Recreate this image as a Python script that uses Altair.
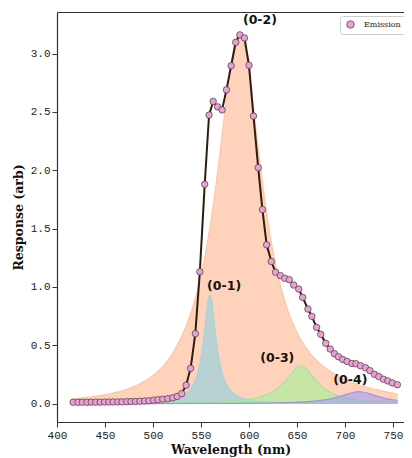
import altair as alt
import pandas as pd

# ---- data ----
emission_nm = [416.8, 421.9, 426.4, 431.3, 435.7, 440.3, 445.0, 449.6, 454.0, 458.5,
               463.4, 467.8, 472.7, 477.1, 481.7, 486.4, 491.3, 495.8, 500.6, 505.1,
               510.2, 515.4, 520.6, 525.2, 529.9, 534.5, 539.2, 544.1, 548.8, 553.9,
               558.4, 562.7, 567.4, 572.0, 576.5, 581.4, 586.2, 590.5, 595.3, 600.0,
               604.7, 609.6, 614.0, 618.4, 623.3, 627.7, 632.8, 637.3, 642.1, 646.6,
               651.8, 655.9, 661.4, 665.5, 670.4, 674.8, 680.0, 684.6, 689.0, 693.2,
               697.6, 702.2, 707.3, 711.5, 716.2, 721.4, 726.0, 730.7, 735.3, 740.1,
               744.6, 749.4, 754.6]
emission_resp = [0.012, 0.012, 0.012, 0.012, 0.013, 0.013, 0.013, 0.014, 0.014, 0.015,
                 0.015, 0.016, 0.017, 0.018, 0.019, 0.021, 0.023, 0.025, 0.030, 0.034,
                 0.038, 0.043, 0.050, 0.062, 0.086, 0.158, 0.303, 0.600, 1.130, 1.880,
                 2.473, 2.590, 2.543, 2.517, 2.689, 2.896, 3.096, 3.160, 3.134, 2.900,
                 2.464, 2.022, 1.663, 1.361, 1.218, 1.126, 1.097, 1.074, 1.062, 1.016,
                 0.982, 0.911, 0.811, 0.748, 0.654, 0.594, 0.517, 0.468, 0.428, 0.402,
                 0.379, 0.362, 0.345, 0.342, 0.325, 0.308, 0.283, 0.252, 0.232, 0.210,
                 0.195, 0.178, 0.163]

band02_nm = [415, 420, 425, 430, 435, 440, 445, 450, 455, 460, 465, 470, 475, 480, 485,
             490, 495, 500, 505, 510, 515, 520, 525, 530, 535, 540, 545, 550, 555, 560,
             565, 570, 575, 580, 585, 590, 595, 600, 605, 610, 615, 620, 625, 630, 635,
             640, 645, 650, 655, 660, 665, 670, 675, 680, 685, 690, 695, 700, 705, 710,
             715, 720, 725, 730, 735, 740, 745, 750, 755]
band02_resp = [0.040, 0.044, 0.048, 0.053, 0.058, 0.064, 0.070, 0.077, 0.085, 0.094,
               0.104, 0.116, 0.130, 0.146, 0.165, 0.187, 0.212, 0.242, 0.277, 0.318,
               0.367, 0.425, 0.495, 0.578, 0.676, 0.790, 0.930, 1.100, 1.300, 1.548,
               1.834, 2.162, 2.512, 2.839, 3.080, 3.170, 3.080, 2.839, 2.512, 2.162,
               1.834, 1.548, 1.306, 1.107, 0.944, 0.810, 0.701, 0.610, 0.535, 0.473,
               0.420, 0.375, 0.337, 0.304, 0.275, 0.251, 0.229, 0.208, 0.190, 0.174,
               0.160, 0.147, 0.136, 0.126, 0.117, 0.105, 0.098, 0.090, 0.083]

band01_nm = [415, 440, 470, 490, 505, 515, 525, 530, 535, 540, 545, 548, 551, 554, 556,
             558, 559.3, 561, 563, 565, 568, 571, 575, 580, 585, 590, 600, 615, 635, 660,
             700, 755]
band01_resp = [0.003, 0.004, 0.007, 0.012, 0.020, 0.029, 0.048, 0.065, 0.091, 0.136,
               0.222, 0.311, 0.448, 0.646, 0.795, 0.906, 0.930, 0.890, 0.766, 0.617,
               0.426, 0.296, 0.192, 0.121, 0.082, 0.059, 0.035, 0.019, 0.010, 0.006,
               0.003, 0.002]

band03_nm = [415, 450, 490, 520, 550, 570, 590, 600, 610, 620, 628, 635, 640, 645, 650,
             654, 658, 663, 668, 673, 680, 688, 698, 708, 718, 738, 755]
band03_resp = [0.002, 0.003, 0.005, 0.007, 0.012, 0.017, 0.029, 0.039, 0.055, 0.083,
               0.120, 0.170, 0.217, 0.269, 0.311, 0.323, 0.311, 0.269, 0.217, 0.170,
               0.120, 0.083, 0.055, 0.039, 0.029, 0.017, 0.012]

band04_nm = [415, 500, 560, 600, 630, 650, 665, 675, 685, 695, 703, 709, 714.6, 720, 726,
             734, 744, 755]
band04_resp = [0.001, 0.001, 0.002, 0.004, 0.008, 0.013, 0.020, 0.028, 0.041, 0.062,
               0.084, 0.098, 0.103, 0.098, 0.084, 0.062, 0.041, 0.027]

label_text = ["(0-2)", "(0-1)", "(0-3)", "(0-4)"]
label_nm = [611.4, 574.1, 629.5, 705.6]
label_resp = [3.290, 1.009, 0.393, 0.199]

# ---- tables ----
emis = pd.DataFrame({"nm": emission_nm, "resp": emission_resp, "series": "Emission"})
b02 = pd.DataFrame({"nm": band02_nm, "resp": band02_resp})
b01 = pd.DataFrame({"nm": band01_nm, "resp": band01_resp})
b03 = pd.DataFrame({"nm": band03_nm, "resp": band03_resp})
b04 = pd.DataFrame({"nm": band04_nm, "resp": band04_resp})
labels = pd.DataFrame({"nm": label_nm, "resp": label_resp, "text": label_text})

xscale = alt.Scale(domain=[400, 761.5], nice=False, zero=False)
yscale = alt.Scale(domain=[-0.157, 3.356], nice=False, zero=False)

yaxis = alt.Axis(values=[0, 0.5, 1.0, 1.5, 2.0, 2.5, 3.0], format=".1f",
                 title="Response (arb)", titlePadding=5, labelFlush=False)
xaxis_bottom = alt.Axis(values=[400, 450, 500, 550, 600, 650, 700, 750], format="d",
                        title="Wavelength (nm)", titlePadding=3, orient="bottom",
                        labelFlush=False)
xaxis_top = alt.Axis(orient="top", labels=False, ticks=False, title=None, domain=True)


def band(df, fill, edge, op, xaxis=None):
    return alt.Chart(df).mark_area(
        interpolate="monotone", color=fill, opacity=op,
        line={"color": edge, "strokeWidth": 1.2, "opacity": 0.9},
    ).encode(
        x=alt.X("nm:Q", scale=xscale, axis=xaxis),
        y=alt.Y("resp:Q", scale=yscale, axis=yaxis),
    )


a02 = band(b02, "#ffa877", "#ffc49c", 0.5, xaxis_bottom)
a01 = band(b01, "#89d0e2", "#a3d4dc", 0.6)
a03 = band(b03, "#a0f29a", "#96ea90", 0.6)
a04 = band(b04, "#a09cf6", "#9b8ef0", 0.6)

line = alt.Chart(emis).mark_line(color="#2b1d10", strokeWidth=2).encode(
    x=alt.X("nm:Q", scale=xscale, axis=None),
    y=alt.Y("resp:Q", scale=yscale, axis=yaxis),
)

pts = alt.Chart(emis).mark_point(
    filled=True, shape="circle", size=42, stroke="#4a3442", strokeWidth=0.7, opacity=1
).encode(
    x=alt.X("nm:Q", scale=xscale, axis=None),
    y=alt.Y("resp:Q", scale=yscale, axis=yaxis),
    fill=alt.Fill("series:N", scale=alt.Scale(domain=["Emission"], range=["#e8a1d3"]),
                  legend=alt.Legend(title=None, orient="none", legendX=283, legendY=4,
                                    fillColor="white", strokeColor="#cccccc",
                                    padding=4, cornerRadius=3, symbolType="circle",
                                    symbolSize=56, symbolStrokeColor="#4a3442",
                                    symbolStrokeWidth=0.7, symbolOffset=2,
                                    labelFont="DejaVu Serif", labelFontSize=8,
                                    labelColor="#222222", labelOffset=9)),
)

txt = alt.Chart(labels).mark_text(
    font="DejaVu Sans", fontWeight="bold", fontSize=12.5, color="#111111"
).encode(
    x=alt.X("nm:Q", scale=xscale, axis=xaxis_top),
    y=alt.Y("resp:Q", scale=yscale, axis=yaxis),
    text="text:N",
)

chart = alt.layer(a02, a01, a03, a04, line, pts, txt).resolve_axis(
    x="independent"
).properties(
    width=347, height=410,
    autosize=alt.AutoSizeParams(type="none"),
    padding={"left": 49, "top": 4, "right": 0, "bottom": 36},
).configure_view(stroke=None).configure_axis(
    grid=False,
    labelFont="Liberation Mono", labelFontSize=11, labelColor="#222222",
    tickColor="#333333", domainColor="#333333", tickSize=5, labelPadding=2,
    titleFont="DejaVu Serif", titleFontWeight="bold", titleFontSize=12.5,
    titleColor="#111111", domainWidth=1.2,
)

chart.save("out.html", embed_options={"renderer": "svg", "actions": False})
